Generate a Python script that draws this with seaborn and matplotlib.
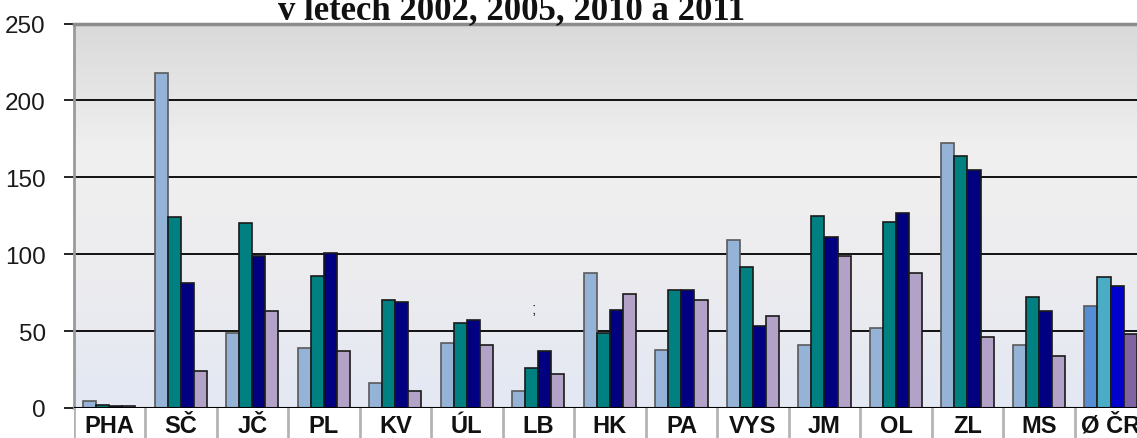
import numpy as np
import pandas as pd
import matplotlib
matplotlib.use('Agg')
import matplotlib.pyplot as plt
import seaborn as sns
from matplotlib.colors import LinearSegmentedColormap

# data
kraje = ['PHA', 'SČ', 'JČ', 'PL', 'KV', 'ÚL', 'LB', 'HK', 'PA', 'VYS', 'JM', 'OL', 'ZL', 'MS', 'Ø ČR']
roky = ['2002', '2005', '2010', '2011']
h2002 = [4.3, 218, 49, 39, 16, 42, 11, 88, 38, 109, 41, 52, 172, 41, 66]
h2005 = [2.1, 124, 120, 86, 70, 55, 26, 49, 77, 92, 125, 121, 164, 72, 85]
h2010 = [1.0, 81, 99, 101, 69, 57, 37, 64, 77, 53, 111, 127, 155, 63, 79]
h2011 = [1.0, 24, 63, 37, 11, 41, 22, 74, 70, 60, 99, 88, 46, 34, 48]
barvy = ['#95b3d7', '#008080', '#000080', '#b3a2c7']
barvy_cr = ['#558ed5', '#4bacc6', '#0000cc', '#8064a2']

df = pd.DataFrame({
    'kraj': kraje * 4,
    'rok': [r for r in roky for _ in kraje],
    'hodnota': h2002 + h2005 + h2010 + h2011,
})

sns.set_style('white')
plt.rcParams['font.family'] = ['Liberation Sans', 'DejaVu Sans']

fig = plt.figure(figsize=(11.37, 4.39), dpi=100)
ax = fig.add_axes([73.5 / 1137, 30 / 439, 1063.5 / 1137, 384.5 / 439])

# gradient background
cmap = LinearSegmentedColormap.from_list('bg', ['#e3e8f4', '#ececef', '#f0f0f0', '#d9d9d9'])
grad = np.linspace(0, 1, 256).reshape(-1, 1)
ax.imshow(grad, cmap=cmap, aspect='auto', extent=[0, 1, 0, 1], transform=ax.transAxes,
          origin='lower', zorder=0)

sns.barplot(data=df, x='kraj', y='hodnota', hue='rok', palette=barvy, width=0.73,
            saturation=1, edgecolor='#1a1a1a', linewidth=1.2, legend=False, ax=ax, zorder=3)

for i, cont in enumerate(ax.containers):
    if i == 0:
        for p in cont:
            p.set_edgecolor('#5a5a5a')
    cont[len(kraje) - 1].set_facecolor(barvy_cr[i])

for v in [50, 100, 150, 200]:
    ax.axhline(v, color='black', lw=1.3, zorder=1)
ax.axhline(0, color='black', lw=1.5, zorder=4)

ax.set_ylim(0, 250)
ax.set_xlim(-0.5, 14.37)
ax.set_yticks([0, 50, 100, 150, 200, 250])
ax.tick_params(axis='y', direction='out', length=7, width=1.2, color='black',
               labelsize=17.5, labelcolor='#1a1a1a', left=True, pad=13)
ax.set_xticks([])
ax.set_xlabel('')
ax.set_ylabel('')
for s in ['right', 'bottom']:
    ax.spines[s].set_visible(False)
ax.spines['top'].set_color('#8c8c8c')
ax.spines['top'].set_linewidth(2.5)
ax.spines['left'].set_color('#9a9a9a')
ax.spines['left'].set_linewidth(2)

ax.text(5.93, 65, ';', fontsize=12, color='#333333', ha='center', va='center', zorder=5)

# category label row
ax2 = fig.add_axes([73.5 / 1137, 0, 1063.5 / 1137, 30 / 439])
ax2.set_xlim(-0.5, 14.37)
ax2.set_ylim(0, 1)
ax2.axis('off')
for i in range(len(kraje)):
    ax2.axvline(i - 0.5, color='#b4b4b4', lw=2)
    ax2.text(i, 0.42, kraje[i], ha='center', va='center', fontsize=17,
             fontweight='bold', color='#111111')

fig.text(511 / 1137, 1 - 19 / 439, 'v letech 2002, 2005, 2010 a 2011', ha='center',
         va='baseline', fontsize=25, fontweight='bold', family='Liberation Serif',
         color='#111111')

fig.savefig('out.png', dpi=100)
